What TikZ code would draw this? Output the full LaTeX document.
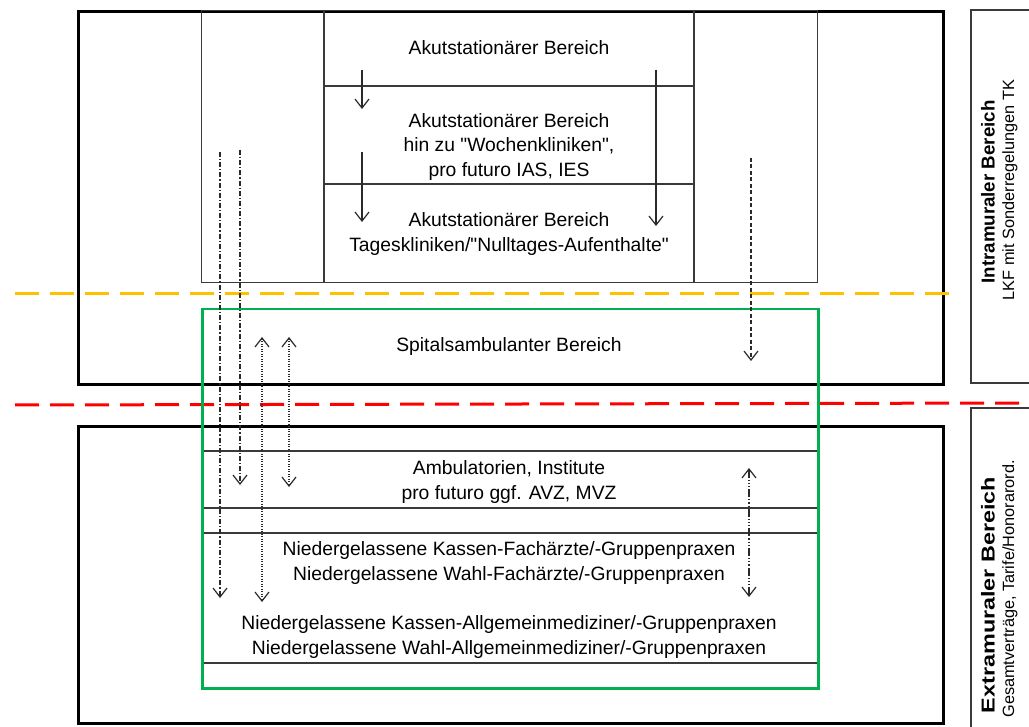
\documentclass[tikz,border=0pt]{standalone}
\usepackage{fontspec}
\usepackage{graphicx}
\setmainfont{Liberation Sans}[Ligatures=TeXOff]
\usetikzlibrary{arrows.meta}
\definecolor{orangeL}{HTML}{FFC000}
\definecolor{redL}{HTML}{FF0000}
\definecolor{greenL}{HTML}{00B050}
\definecolor{lineG}{HTML}{3A3A3A}
\definecolor{arrG}{HTML}{2A2A2A}
\begin{document}
\begin{tikzpicture}[x=1pt,y=-1pt,
  thickbox/.style={draw=black,line width=3pt},
  thinline/.style={draw=lineG,line width=1.3pt},
  sidebox/.style={draw=lineG,line width=1.3pt},
  lbl/.style={font=\fontsize{19.3}{24.5}\selectfont,align=center,inner sep=0pt},
  side/.style={rotate=90,inner sep=0pt,align=center},
  vhead/.tip={Straight Barb[length=9pt,width=14pt,line width=1.2pt]},
  arr/.style={-vhead,line width=1.2pt,draw=arrG},
  darr/.style={vhead-vhead,line width=1.2pt,draw=arrG},
  dashdotA/.style={dash pattern=on 5pt off 2pt on 1.2pt off 2pt},
  dotB/.style={dash pattern=on 1.2pt off 1.3pt},
  dashE/.style={dash pattern=on 4pt off 2.5pt},
  dashdotdotF/.style={dash pattern=on 8pt off 2pt on 1.2pt off 2pt on 1.2pt off 2pt on 1.2pt off 2pt},
  sepline/.style={line width=3pt,dash pattern=on 24pt off 11pt}
]
\useasboundingbox (0,0) rectangle (1029,727);
\fill[white] (0,0) rectangle (1029,727);

% upper outer box
\node[thickbox,minimum width=865pt,minimum height=373pt,inner sep=0pt,anchor=north west] (upper) at (77,10) {};
% inner structure
\node[thinline,draw,minimum width=616pt,minimum height=272pt,inner sep=0pt,anchor=north west] (inner) at (201,10) {};
\coordinate (v1t) at (324,10); \coordinate (v1b) at (324,282);
\coordinate (v2t) at (694,10); \coordinate (v2b) at (694,282);
\draw[thinline] (v1t) -- (v1b);
\draw[thinline] (v2t) -- (v2b);
\coordinate (h1l) at (324,86); \coordinate (h1r) at (694,86);
\coordinate (h2l) at (324,184); \coordinate (h2r) at (694,184);
\draw[thinline] (h1l) -- (h1r);
\draw[thinline] (h2l) -- (h2r);

\node[lbl] (akut1) at (509,48) {Akutstationärer Bereich};
\node[lbl] (akut2) at (509,147) {Akutstationärer Bereich\\hin zu "Wochenkliniken",\\pro futuro IAS, IES};
\node[lbl] (akut3) at (509,234) {Akutstationärer Bereich\\Tageskliniken/"Nulltages-Aufenthalte"};

% solid arrows upper
\coordinate (a1s) at (362,70); \coordinate (a1e) at (362,109);
\coordinate (a2s) at (362,152); \coordinate (a2e) at (362,222);
\coordinate (a3s) at (656,70); \coordinate (a3e) at (656,226);
\draw[arr] (a1s) -- (a1e);
\draw[arr] (a2s) -- (a2e);
\draw[arr] (a3s) -- (a3e);

% lower outer box
\node[thickbox,minimum width=865pt,minimum height=297pt,inner sep=0pt,anchor=north west] (lower) at (77,425) {};
\coordinate (l1l) at (201,451); \coordinate (l1r) at (817,451);
\coordinate (l2l) at (201,508); \coordinate (l2r) at (817,508);
\coordinate (l3l) at (201,533); \coordinate (l3r) at (817,533);
\coordinate (l4l) at (201,663); \coordinate (l4r) at (817,663);
\draw[thinline] (l1l) -- (l1r);
\draw[thinline] (l2l) -- (l2r);
\draw[thinline] (l3l) -- (l3r);
\draw[thinline] (l4l) -- (l4r);

\node[lbl] (amb) at (509,482) {Ambulatorien, Institute\\pro futuro ggf. AVZ, MVZ};
\node[lbl] (fach) at (509,563) {Niedergelassene Kassen-Fachärzte/-Gruppenpraxen\\Niedergelassene Wahl-Fachärzte/-Gruppenpraxen};
\node[lbl] (allg) at (509,637) {Niedergelassene Kassen-Allgemeinmediziner/-Gruppenpraxen\\Niedergelassene Wahl-Allgemeinmediziner/-Gruppenpraxen};

% separation lines
\coordinate (oL) at (15,294); \coordinate (oR) at (955,294);
\draw[sepline,draw=orangeL] (oL) -- (oR);
\coordinate (rL) at (15,405); \coordinate (rR) at (1029,403);
\draw[sepline,draw=redL] (rL) -- (rR);

% green box
\node[draw=greenL,line width=2.5pt,minimum width=616pt,minimum height=379pt,inner sep=0pt,anchor=north west] (green) at (201,308) {};
\node[lbl] (spital) at (509,347) {Spitalsambulanter Bereich};

% long connectors
\coordinate (As) at (220,152); \coordinate (Ae) at (220,598);
\draw[arr,dashdotA] (As) -- (Ae);
\coordinate (Bs) at (240,150); \coordinate (Be) at (240,485);
\draw[arr,dashdotA] (Bs) -- (Be);
\coordinate (Cs) at (262,337); \coordinate (Ce) at (262,602);
\draw[darr,dotB] (Cs) -- (Ce);
\coordinate (Ds) at (289,337); \coordinate (De) at (289,487);
\draw[darr,dotB] (Ds) -- (De);
\coordinate (Es) at (751,158); \coordinate (Ee) at (751,361);
\draw[arr,dashE] (Es) -- (Ee);
\coordinate (Fs) at (749,468); \coordinate (Fe) at (749,597);
\draw[darr,dashdotdotF] (Fs) -- (Fe);

% side boxes
\coordinate (s1a) at (1035,10); \coordinate (s1b) at (971,10);
\coordinate (s1c) at (971,383); \coordinate (s1d) at (1035,383);
\draw[sidebox] (s1a) -- (s1b) -- (s1c) -- (s1d);
\node[side,font=\fontsize{18.7}{22}\selectfont\bfseries] (intraA) at (988,192) {Intramuraler Bereich};
\node[side,font=\fontsize{16.3}{22}\selectfont] (intraB) at (1010,190) {LKF mit Sonderregelungen TK};
\coordinate (s2a) at (1035,408); \coordinate (s2b) at (971,408);
\coordinate (s2c) at (971,735);
\draw[sidebox] (s2a) -- (s2b) -- (s2c);
\node[side,font=\fontsize{18.7}{22}\selectfont\bfseries] (extraA) at (988,595) {\scalebox{1.25}[1]{Extramuraler Bereich}};
\node[side,font=\fontsize{16.3}{22}\selectfont] (extraB) at (1010,589) {Gesamtverträge, Tarife/Honorarord.};
\end{tikzpicture}
\end{document}
